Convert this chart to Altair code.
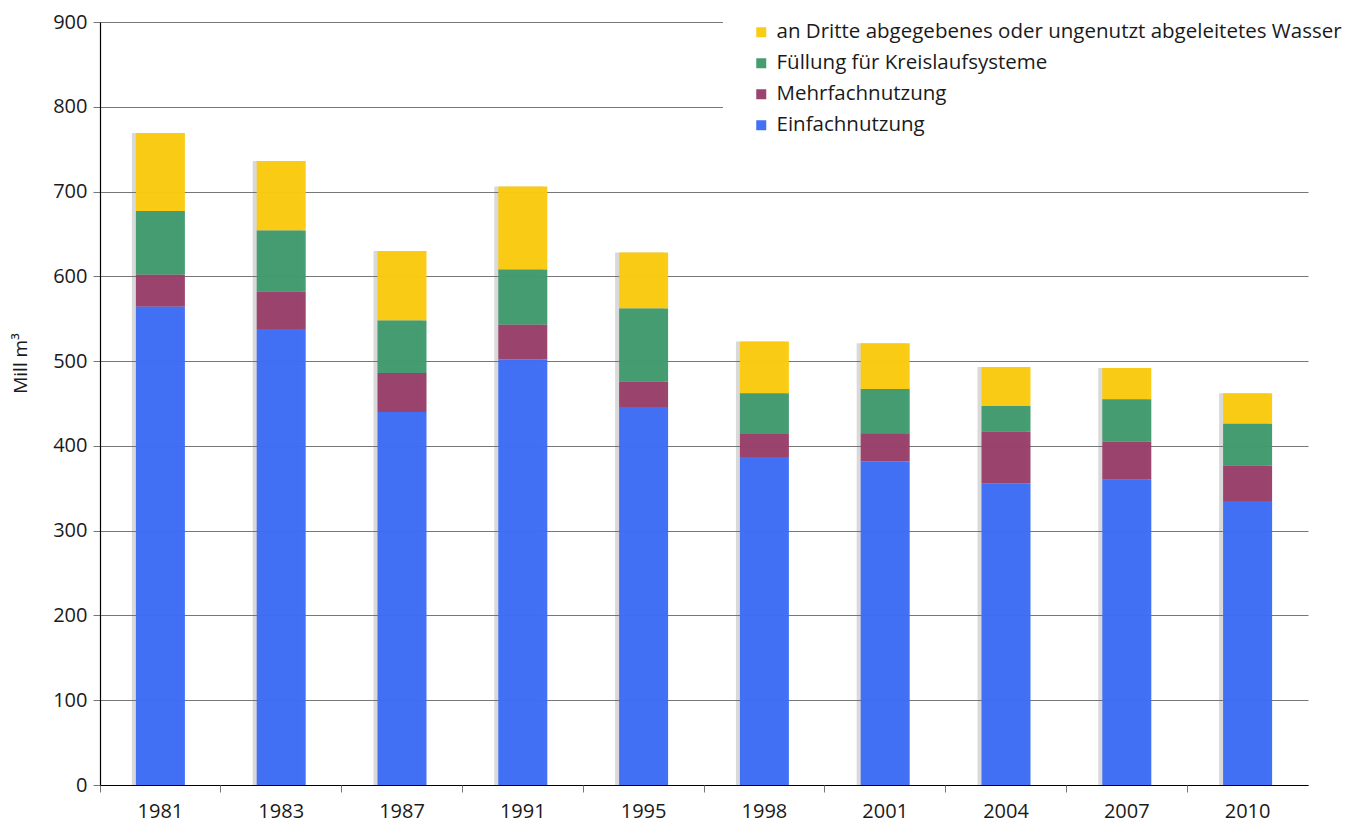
import altair as alt
import pandas as pd

years = ["1981", "1983", "1987", "1991", "1995", "1998", "2001", "2004", "2007", "2010"]
einfach = [564, 538, 440, 502, 446, 387, 382, 356, 360, 335]
mehrfach = [38, 44, 46, 41, 30, 27, 33, 61, 45, 42]
fuellung = [75, 72, 62, 65, 86, 48, 52, 30, 50, 49]
dritte = [92, 82, 82, 98, 66, 61, 54, 46, 37, 36]

series = [
    "an Dritte abgegebenes oder ungenutzt abgeleitetes Wasser",
    "Füllung für Kreislaufsysteme",
    "Mehrfachnutzung",
    "Einfachnutzung",
]
colors = ["#FBCA0E", "#3F9A6C", "#983E69", "#3C6CF6"]
values = [dritte, fuellung, mehrfach, einfach]

rows = []
for s_i, (name, vals) in enumerate(zip(series, values)):
    for y, v in zip(years, vals):
        rows.append({"Jahr": y, "Serie": name, "Wert": v, "ord": 3 - s_i})
df = pd.DataFrame(rows)

FONT = "Open Sans"
TXT = "#1a1a1a"

xscale = alt.Scale(domain=years, paddingInner=0, paddingOuter=0)
yscale = alt.Scale(domain=[0, 900], nice=False)

base = alt.Chart(df)

shadow = base.mark_bar(color="#666666", opacity=0.25, width=49, xOffset=-4).encode(
    x=alt.X("Jahr:N", scale=xscale, sort=years,
            axis=alt.Axis(title=None, labelAngle=0, ticks=False, domain=True, orient="bottom",
                          domainColor="#000000", labelFontSize=20, labelFont=FONT,
                          labelColor=TXT, labelPadding=16, grid=False)),
    y=alt.Y("sum(Wert):Q", scale=yscale, stack="zero",
            axis=alt.Axis(title="Mill m³", values=list(range(0, 901, 100)),
                          grid=True, gridColor="#777777", gridWidth=1,
                          tickColor="#777777", tickSize=7, domainColor="#000000",
                          labelFontSize=20, labelFont=FONT, labelColor=TXT,
                          labelPadding=6, titleFont=FONT, titleFontSize=19,
                          titleFontWeight="normal", titleColor=TXT,
                          titleX=-80, titleY=341, titleBaseline="middle",
                          titleAlign="center")),
)

bars = base.mark_bar(width=49, opacity=0.97).encode(
    x=alt.X("Jahr:N", scale=xscale, sort=years, axis=None),
    y=alt.Y("Wert:Q", scale=yscale, stack="zero"),
    color=alt.Color("Serie:N", scale=alt.Scale(domain=series, range=colors),
                    legend=alt.Legend(title=None, orient="none", legendX=623, legendY=-28,
                                      symbolType="square", symbolSize=100,
                                      symbolStrokeWidth=0, labelFont=FONT,
                                      labelFontSize=20.5, labelColor=TXT, labelLimit=800,
                                      rowPadding=10, fillColor="white", padding=28,
                                      symbolOffset=0, labelOffset=5)),
    order=alt.Order("ord:Q", sort="ascending"),
)

ticks = base.mark_bar(opacity=0).encode(
    x=alt.X("Jahr:N", scale=xscale, sort=years,
            axis=alt.Axis(title=None, labels=False, domain=False, ticks=True, orient="bottom",
                          tickColor="#777777", tickSize=7, bandPosition=0, grid=False)),
    y=alt.Y("Wert:Q", scale=yscale, stack="zero"),
)

chart = alt.layer(shadow, bars, ticks).resolve_axis(x="independent").properties(
    width=1208, height=763,
    autosize=alt.AutoSizeParams(type="none"),
    padding={"left": 92, "top": 14, "right": 40, "bottom": 40},
).configure_view(stroke=None).configure_axis(domainWidth=1.2)

chart.save("out.html", embed_options={"renderer": "svg", "actions": False})
